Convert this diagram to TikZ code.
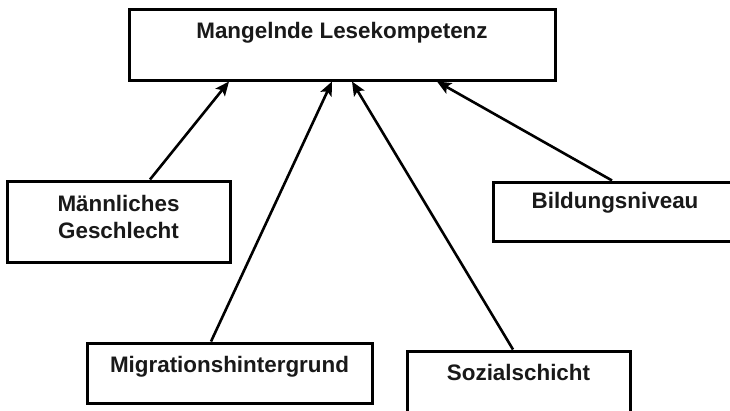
\documentclass[tikz,border=0pt]{standalone}
\usepackage{fontspec}
\setmainfont{Liberation Sans}
\usetikzlibrary{arrows.meta}
\begin{document}
\begin{tikzpicture}[x=1pt,y=-1pt,
  box/.style={draw=black,line width=3pt,fill=white,inner sep=0pt,minimum width=#1},
  lbl/.style={font=\fontsize{22.4}{27}\selectfont\bfseries,inner sep=0pt,align=center,text=black!90},
  arr/.style={line width=2.6pt,-{Stealth[length=14pt,width=12pt,inset=3pt]}}]
\useasboundingbox[fill=white] (0,0) rectangle (730,410);
% boxes
\node[box=426,minimum height=71] (top) at (342,44.5) {};
\node[box=223,minimum height=81] (mg) at (118.5,221.5) {};
\node[box=244,minimum height=59] (bn) at (615,211.5) {};
\node[box=285,minimum height=60] (mh) at (229.5,373) {};
\node[box=223,minimum height=64] (sz) at (518.5,383) {};
% labels
\node[lbl] (toptext) at (342,33) {Mangelnde Lesekompetenz};
\node[lbl] (mgtext) at (118.5,217) {Männliches\\Geschlecht};
\node[lbl] (bntext) at (615,203) {Bildungsniveau};
\node[lbl] (mhtext) at (229.5,367) {Migrationshintergrund};
\node[lbl] (sztext) at (518.5,372) {Sozialschicht};
% arrows
\draw[arr] ([xshift=31.5pt]mg.north) -- ([xshift=-113pt]top.south);
\draw[arr] ([xshift=-18.5pt]mh.north) -- ([xshift=-10pt]top.south);
\draw[arr] ([xshift=-5.5pt]sz.north) -- ([xshift=10pt]top.south);
\draw[arr] ([xshift=-3pt]bn.north) -- ([xshift=95pt]top.south);
\end{tikzpicture}
\end{document}
